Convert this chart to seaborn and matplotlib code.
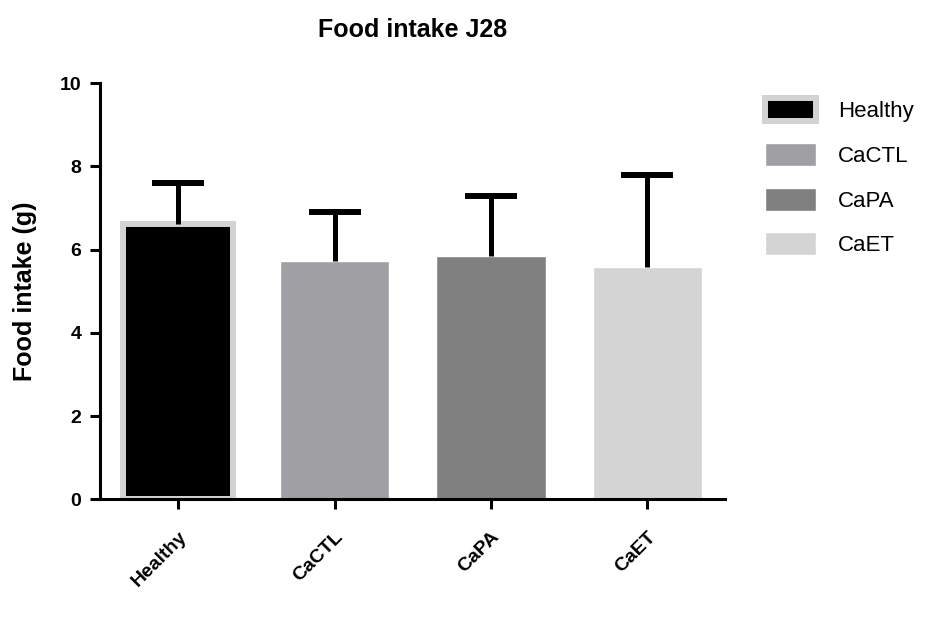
import numpy as np
import pandas as pd
import seaborn as sns
import matplotlib.pyplot as plt

# values (mean + SD, g)
groups = ["Healthy", "CaCTL", "CaPA", "CaET"]
means = [6.62, 5.73, 5.85, 5.59]
sd = [0.98, 1.17, 1.43, 2.20]
colors = ["#000000", "#a0a0a4", "#808080", "#d4d4d4"]

sns.set_style("ticks")
plt.rcParams['font.family'] = ['Liberation Sans', 'DejaVu Sans']
plt.rcParams.update({'text.color': 'black', 'axes.labelcolor': 'black',
                     'xtick.color': 'black', 'ytick.color': 'black',
                     'axes.edgecolor': 'black'})

df = pd.DataFrame({"group": groups, "intake": means})

fig = plt.figure(figsize=(9.52, 6.21), dpi=100)
ax = fig.add_axes([0.105, 0.196, 0.657, 0.67])

sns.barplot(data=df, x="group", y="intake", hue="group", palette=colors,
            width=0.7, saturation=1, errorbar=None, legend=False, ax=ax)

# Healthy bar: black with light grey border
ax.patches[0].set_edgecolor("#d3d3d3")
ax.patches[0].set_linewidth(4.3)

# upper-only error bars
x = np.arange(len(groups))
eb = ax.errorbar(x, means, yerr=[np.zeros(len(sd)), sd], fmt='none', ecolor='black',
                 elinewidth=3.6, capsize=18.7, capthick=4.3, zorder=3)
eb[1][0].set_visible(False)

ax.set_xlim(-0.5, 3.5)
ax.set_ylim(0, 10)
ax.set_yticks([0, 2, 4, 6, 8, 10])
sns.despine(ax=ax)
for s in ["left", "bottom"]:
    ax.spines[s].set_linewidth(2.2)
    ax.spines[s].set_zorder(4)
ax.tick_params(axis='both', direction='out', length=7, width=2.2, labelsize=14, pad=6.5)
for lab in ax.get_yticklabels():
    lab.set_fontweight('bold')
ax.set_xticks(x)
ax.set_xticklabels(groups, rotation=45, ha='right', rotation_mode='anchor',
                   fontweight='bold', fontsize=14)
ax.tick_params(axis='x', pad=14)

ax.set_xlabel("")
ax.set_ylabel("Food intake (g)", fontsize=18, fontweight='bold', labelpad=16)
ax.set_title("Food intake J28", fontsize=18, fontweight='bold', pad=33)

ax.legend(handles=ax.patches[:4], labels=groups, loc='upper left',
          bbox_to_anchor=(765 / 952, 1 - 98 / 621), bbox_transform=fig.transFigure,
          frameon=False, fontsize=16, handlelength=2.3, handleheight=1.23,
          handletextpad=1.0, labelspacing=0.93, borderpad=0, borderaxespad=0)

fig.savefig("out.png", dpi=100)
